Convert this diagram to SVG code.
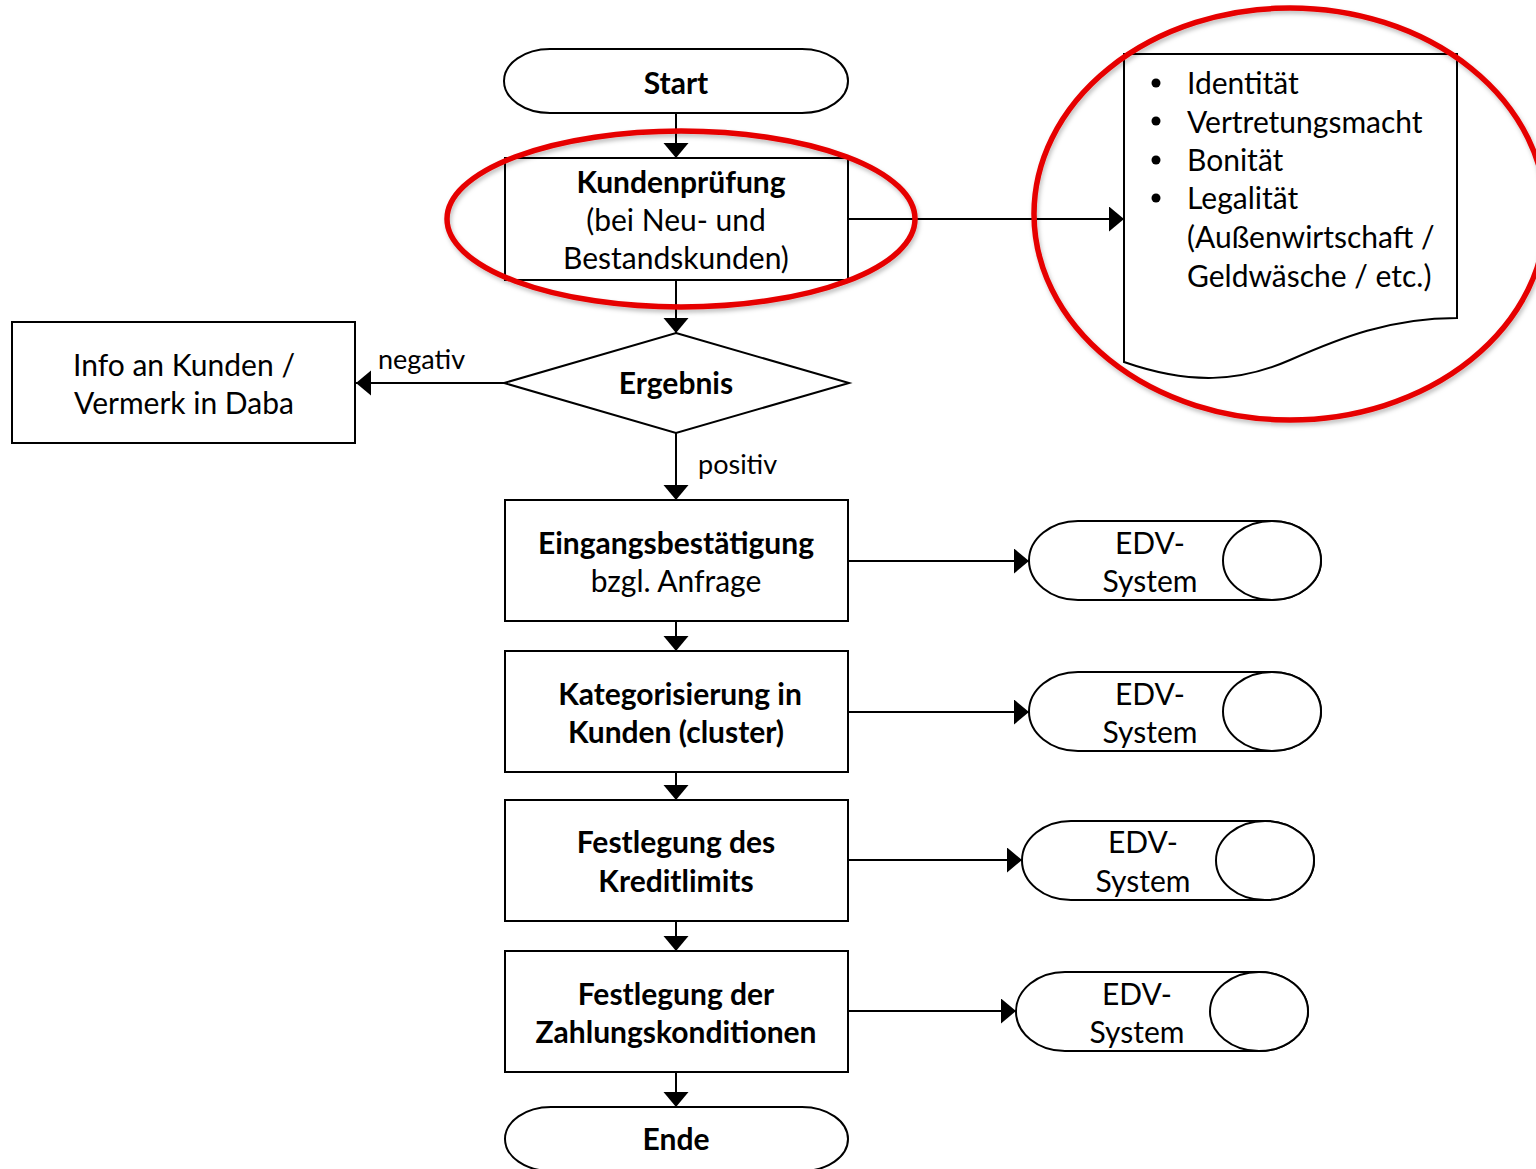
<svg xmlns="http://www.w3.org/2000/svg" width="1536" height="1169" viewBox="0 0 1536 1169">
  <defs>
    <style>
      .shape { fill: #ffffff; stroke: #000000; stroke-width: 2; }
      .line { fill: none; stroke: #000000; stroke-width: 2; }
      .ring { fill: none; stroke: #e60000; stroke-width: 5.5; filter: url(#shadow); }
      text { font-family: "Lato", "Liberation Sans", sans-serif; font-size: 30px; fill: #000000; }
      .c { text-anchor: middle; }
      .b { font-weight: bold; }
      .lbl { font-size: 27px; }
    </style>
    <marker id="arrow" markerUnits="userSpaceOnUse" markerWidth="16" markerHeight="26" refX="15" refY="12.5" orient="auto">
      <path d="M0,0 L15,12.5 L0,25 Z" fill="#000000"/>
    </marker>
    <filter id="shadow" x="-10%" y="-10%" width="120%" height="125%">
      <feDropShadow dx="1.5" dy="3" stdDeviation="2" flood-color="#000000" flood-opacity="0.25"/>
    </filter>
  </defs>
  <rect width="1536" height="1169" fill="#ffffff"/>

  <!-- connectors -->
  <g id="connectors">
    <line class="line" x1="676" y1="113" x2="676" y2="158" marker-end="url(#arrow)"/>
    <line class="line" x1="676" y1="280" x2="676" y2="333" marker-end="url(#arrow)"/>
    <line class="line" x1="848" y1="219" x2="1124" y2="219" marker-end="url(#arrow)"/>
    <line class="line" x1="504" y1="383" x2="356" y2="383" marker-end="url(#arrow)"/>
    <line class="line" x1="676" y1="433" x2="676" y2="500" marker-end="url(#arrow)"/>
    <line class="line" x1="676" y1="621" x2="676" y2="651" marker-end="url(#arrow)"/>
    <line class="line" x1="676" y1="772" x2="676" y2="800" marker-end="url(#arrow)"/>
    <line class="line" x1="676" y1="921" x2="676" y2="951" marker-end="url(#arrow)"/>
    <line class="line" x1="676" y1="1072" x2="676" y2="1107" marker-end="url(#arrow)"/>
    <line class="line" x1="848" y1="561" x2="1029" y2="561" marker-end="url(#arrow)"/>
    <line class="line" x1="848" y1="712" x2="1029" y2="712" marker-end="url(#arrow)"/>
    <line class="line" x1="848" y1="860" x2="1022" y2="860" marker-end="url(#arrow)"/>
    <line class="line" x1="848" y1="1011" x2="1016" y2="1011" marker-end="url(#arrow)"/>
    <text class="lbl" x="378" y="369">negativ</text>
    <text class="lbl" x="698" y="474">positiv</text>
  </g>

  <!-- start -->
  <g id="start">
    <rect class="shape" x="504" y="49" width="344" height="64" rx="46" ry="32"/>
    <text class="c b" x="676" y="94">Start</text>
  </g>

  <!-- customer check -->
  <g id="kundenpruefung">
    <rect class="shape" x="505" y="158" width="343" height="122"/>
    <text class="c b" x="681" y="193">Kundenprüfung</text>
    <text class="c" x="676" y="231">(bei Neu- und</text>
    <text class="c" x="676" y="269">Bestandskunden)</text>
  </g>

  <!-- checklist document -->
  <g id="pruefpunkte">
    <path class="shape" d="M1124,54 H1457 V318 C1390,318 1340,338 1290,360 C1240,382 1190,385 1124,362 Z"/>
    <circle cx="1156" cy="83" r="4.5"/>
    <circle cx="1156" cy="121" r="4.5"/>
    <circle cx="1156" cy="160" r="4.5"/>
    <circle cx="1156" cy="198" r="4.5"/>
    <text x="1187" y="94">Identität</text>
    <text x="1187" y="133">Vertretungsmacht</text>
    <text x="1187" y="171">Bonität</text>
    <text x="1187" y="209">Legalität</text>
    <text x="1187" y="248">(Außenwirtschaft /</text>
    <text x="1187" y="287">Geldwäsche / etc.)</text>
  </g>

  <!-- decision -->
  <g id="ergebnis">
    <polygon class="shape" points="676,333 849,383 676,433 504,383"/>
    <text class="c b" x="676" y="394">Ergebnis</text>
  </g>

  <!-- negative outcome -->
  <g id="info-kunde">
    <rect class="shape" x="12" y="322" width="343" height="121"/>
    <text class="c" x="184" y="376">Info an Kunden /</text>
    <text class="c" x="184" y="414">Vermerk in Daba</text>
  </g>

  <g id="eingangsbestaetigung">
    <rect class="shape" x="505" y="500" width="343" height="121"/>
    <text class="c b" x="676" y="554">Eingangsbestätigung</text>
    <text class="c" x="676" y="592">bzgl. Anfrage</text>
  </g>

  <g id="kategorisierung">
    <rect class="shape" x="505" y="651" width="343" height="121"/>
    <text class="c b" x="680" y="705">Kategorisierung in</text>
    <text class="c b" x="676" y="743">Kunden (cluster)</text>
  </g>

  <g id="kreditlimit">
    <rect class="shape" x="505" y="800" width="343" height="121"/>
    <text class="c b" x="676" y="853">Festlegung des</text>
    <text class="c b" x="676" y="892">Kreditlimits</text>
  </g>

  <g id="zahlungskonditionen">
    <rect class="shape" x="505" y="951" width="343" height="121"/>
    <text class="c b" x="676" y="1005">Festlegung der</text>
    <text class="c b" x="676" y="1043">Zahlungskonditionen</text>
  </g>

  <!-- end -->
  <g id="ende">
    <rect class="shape" x="505" y="1107" width="343" height="64" rx="46" ry="32"/>
    <text class="c b" x="676" y="1150">Ende</text>
  </g>

  <!-- storage symbols -->
  <g id="edv-1">
    <path class="shape" d="M1078,521 H1272 A49,39.5 0 0 1 1272,600 H1078 A49,39.5 0 0 1 1078,521 Z"/>
    <ellipse class="shape" cx="1272" cy="560.5" rx="49" ry="39.5"/>
    <text class="c" x="1150" y="554">EDV-</text>
    <text class="c" x="1150" y="592">System</text>
  </g>
  <g id="edv-2">
    <path class="shape" d="M1078,672 H1272 A49,39.5 0 0 1 1272,751 H1078 A49,39.5 0 0 1 1078,672 Z"/>
    <ellipse class="shape" cx="1272" cy="711.5" rx="49" ry="39.5"/>
    <text class="c" x="1150" y="705">EDV-</text>
    <text class="c" x="1150" y="743">System</text>
  </g>
  <g id="edv-3">
    <path class="shape" d="M1071,821 H1265 A49,39.5 0 0 1 1265,900 H1071 A49,39.5 0 0 1 1071,821 Z"/>
    <ellipse class="shape" cx="1265" cy="860.5" rx="49" ry="39.5"/>
    <text class="c" x="1143" y="853">EDV-</text>
    <text class="c" x="1143" y="892">System</text>
  </g>
  <g id="edv-4">
    <path class="shape" d="M1065,972 H1259 A49,39.5 0 0 1 1259,1051 H1065 A49,39.5 0 0 1 1065,972 Z"/>
    <ellipse class="shape" cx="1259" cy="1011.5" rx="49" ry="39.5"/>
    <text class="c" x="1137" y="1005">EDV-</text>
    <text class="c" x="1137" y="1043">System</text>
  </g>

  <!-- highlight rings -->
  <g id="markierungen">
    <ellipse class="ring" cx="681" cy="219" rx="234" ry="88"/>
    <ellipse class="ring" cx="1290" cy="214" rx="256" ry="206"/>
  </g>
</svg>
